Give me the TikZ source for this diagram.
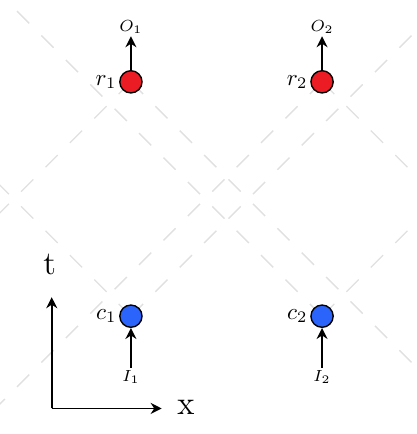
\documentclass[tikz,border=0pt]{standalone}
\usepackage{amsmath,amssymb}
\usepackage{tikz}
\usepackage{xcolor}
\usetikzlibrary{arrows.meta,positioning}

\definecolor{rojo}{RGB}{236,28,36}
\definecolor{azul}{RGB}{42,100,250}
\definecolor{gris}{RGB}{224,224,224}

\begin{document}
\begin{tikzpicture}[
  evento/.style={circle, draw, semithick, minimum size=0.34cm, inner sep=0pt},
  cono/.style={gris, line width=0.6pt, dash pattern=on 7.5pt off 7.5pt},
  flecha/.style={-{Stealth[length=4.8pt,width=4.8pt]}, line width=0.75pt}
]
\useasboundingbox (-2.0,-1.8) rectangle (4.36,4.83);

% Eventos
\coordinate (C1) at (0,0);
\coordinate (C2) at (2.92,0);
\coordinate (R1) at (0,3.58);
\coordinate (R2) at (2.92,3.58);

% Conos de luz
\begin{scope}
\clip (-2.0,-1.8) rectangle (4.36,4.83);
\draw[cono] (C1) -- ++(45:9);
\draw[cono] (C1) -- ++(135:9);
\draw[cono] (C2) -- ++(45:9);
\draw[cono] (C2) -- ++(135:9);
\draw[cono] (R1) -- ++(-45:9);
\draw[cono] (R1) -- ++(-135:9);
\draw[cono] (R2) -- ++(-45:9);
\draw[cono] (R2) -- ++(-135:9);
\end{scope}

% Nodos
\node[evento, fill=azul] (c1) at (C1) {};
\node[evento, fill=azul] (c2) at (C2) {};
\node[evento, fill=rojo] (r1) at (R1) {};
\node[evento, fill=rojo] (r2) at (R2) {};

\node[left=1pt of c1, inner sep=0pt] (c1lab) {$c_1$};
\node[left=1pt of c2, inner sep=0pt] (c2lab) {$c_2$};
\node[left=1pt of r1, inner sep=0pt] (r1lab) {$r_1$};
\node[left=1pt of r2, inner sep=0pt] (r2lab) {$r_2$};

% Entradas y salidas
\node[inner sep=1pt] (I1) at (0,-0.93) {\scriptsize $I_1$};
\node[inner sep=1pt] (I2) at (2.92,-0.93) {\scriptsize $I_2$};
\node[inner sep=1pt] (O1) at (0,4.42) {\scriptsize $O_1$};
\node[inner sep=1pt] (O2) at (2.92,4.42) {\scriptsize $O_2$};

\draw[flecha] (I1) -- (c1);
\draw[flecha] (I2) -- (c2);
\draw[flecha] (r1) -- (O1);
\draw[flecha] (r2) -- (O2);

% Ejes
\coordinate (O) at (-1.21,-1.41);
\coordinate (T) at (-1.21,0.29);
\coordinate (X) at (0.47,-1.41);
\draw[flecha] (O) -- (T);
\draw[flecha] (O) -- (X);
\node (tlab) at (-1.24,0.79) {\Large t};
\node (xlab) at (0.84,-1.39) {\Large x};
\end{tikzpicture}
\end{document}
